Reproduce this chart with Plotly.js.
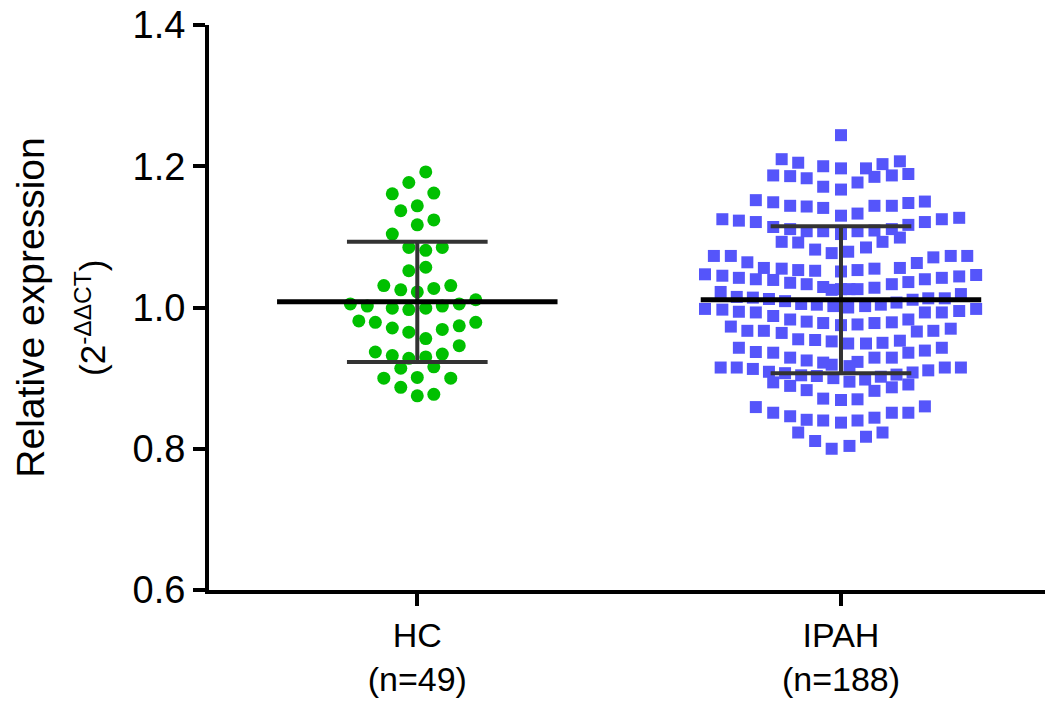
<!DOCTYPE html>
<html>
<head>
<meta charset="utf-8">
<script src="https://cdn.plot.ly/plotly-3.0.1.min.js"></script>
<style>
  html, body { margin: 0; padding: 0; background: #ffffff; }
  #chart { width: 1047px; height: 702px; }
</style>
</head>
<body>
<div id="chart"></div>
<script>
// ---------------- data ----------------
const groups = ['HC', 'IPAH'];
const groupLabels = ['HC<br>(n=49)', 'IPAH<br>(n=188)'];
const yTickVals = [0.6, 0.8, 1.0, 1.2, 1.4];
const yTickText = ['0.6', '0.8', '1.0', '1.2', '1.4'];

// group summary: mean and SD drawn as the horizontal bars
const groupMean = [1.008, 1.011];
const groupSD = [0.085, 0.104];

// HC (n=49): relative expression values and horizontal scatter offsets
const hcValues = [
  1.192, 1.177, 1.161, 1.162, 1.137, 1.144, 1.124, 1.117, 1.104, 1.085,
  1.081, 1.085, 1.052, 1.057, 1.031, 1.025, 1.022, 1.027, 1.031, 1.005,
  1.002, 0.999, 0.997, 0.999, 1.002, 1.005, 1.011, 0.981, 0.979, 0.971,
  0.965, 0.956, 0.969, 0.974, 0.979, 0.937, 0.932, 0.928, 0.930, 0.934,
  0.946, 0.914, 0.916, 0.900, 0.901, 0.900, 0.887, 0.875, 0.877
];
const hcJitter = [
  0.020, -0.020, -0.059, 0.039, -0.039, 0.000, 0.039, 0.000, -0.059, -0.020,
  0.020, 0.059, -0.020, 0.020, -0.079, -0.039, 0.000, 0.039, 0.079, -0.158,
  -0.118, -0.059, -0.020, 0.020, 0.059, 0.099, 0.138, -0.138, -0.099, -0.059,
  -0.020, 0.020, 0.059, 0.099, 0.138, -0.099, -0.059, -0.020, 0.020, 0.059,
  0.099, -0.039, 0.039, -0.079, 0.000, 0.079, -0.039, 0.000, 0.039
];

// IPAH (n=188): relative expression values and horizontal scatter offsets
const ipahValues = [
  1.244, 1.210, 1.205, 1.200, 1.197, 1.187, 1.186, 1.183, 1.171, 1.167,
  1.152, 1.149, 1.144, 1.143, 1.141, 1.130, 1.125, 1.123, 1.121, 1.114,
  1.111, 1.108, 1.108, 1.104,
  1.197, 1.203, 1.207, 1.177, 1.185, 1.187, 1.189, 1.133, 1.144, 1.144,
  1.148, 1.150, 1.117, 1.121, 1.125, 1.127,
  1.093, 1.092, 1.082, 1.077, 1.073, 1.073, 1.064, 1.056, 1.055, 1.053,
  1.052, 1.047, 1.045, 1.042, 1.040, 1.039, 1.035, 1.033, 1.029, 1.025,
  1.022, 1.015, 1.014, 1.012, 1.009, 1.005, 1.004, 1.002, 0.998, 0.997,
  0.994, 0.993, 0.988, 0.983, 0.980, 0.978, 0.973, 0.967, 0.967, 0.964,
  0.955, 0.954, 0.952, 1.051, 0.975, 1.026,
  1.108, 1.109, 1.111, 1.079, 1.085, 1.093, 1.099, 1.053, 1.055, 1.056,
  1.063, 1.071, 1.073, 1.073, 1.026, 1.026, 1.028, 1.033, 1.036, 1.040,
  1.042, 1.044, 1.046, 1.007, 1.011, 1.013, 1.013, 1.019, 1.000, 1.002,
  1.004, 0.993, 0.993, 0.995, 0.998, 0.976, 0.978, 0.979, 0.983, 0.966,
  0.967, 0.970,
  0.943, 0.937, 0.936, 0.929, 0.925, 0.922, 0.919, 0.915, 0.915, 0.913,
  0.909, 0.907, 0.904, 0.903, 0.900, 0.894, 0.889, 0.883, 0.871, 0.869,
  0.859, 0.851, 0.846, 0.841, 0.840, 0.837, 0.823, 0.811, 0.800,
  0.949, 0.949, 0.950, 0.953, 0.923, 0.929, 0.929, 0.936, 0.939, 0.943,
  0.917, 0.908, 0.911, 0.915, 0.915, 0.895, 0.898, 0.902, 0.905, 0.891,
  0.887, 0.882, 0.870, 0.860, 0.851, 0.851, 0.844, 0.840, 0.823, 0.817,
  0.804
];
const ipahJitter = [
  0.000, -0.140, -0.101, -0.042, 0.000, -0.160, -0.120, -0.081, -0.042, 0.000,
  -0.201, -0.160, -0.120, -0.081, -0.042, 0.000, -0.280, -0.241, -0.201, -0.160,
  -0.120, -0.081, -0.042, 0.000,
  0.059, 0.098, 0.139, 0.039, 0.079, 0.120, 0.159, 0.039, 0.079, 0.120,
  0.159, 0.198, 0.159, 0.198, 0.238, 0.279,
  -0.140, -0.101, -0.061, -0.022, -0.300, -0.260, -0.221, -0.182, -0.140, -0.101,
  -0.061, -0.321, -0.280, -0.241, -0.201, -0.160, -0.120, -0.081, -0.042, -0.022,
  -0.284, -0.246, -0.208, -0.170, -0.132, -0.094, -0.057, -0.018, -0.321, -0.280,
  -0.241, -0.201, -0.160, -0.120, -0.081, -0.042, -0.260, -0.221, -0.182, -0.140,
  -0.101, -0.061, -0.022, 0.000, 0.000, 0.000,
  0.039, 0.079, 0.120, 0.017, 0.059, 0.098, 0.139, 0.039, 0.079, 0.139,
  0.179, 0.218, 0.259, 0.298, 0.020, 0.039, 0.079, 0.120, 0.159, 0.198,
  0.238, 0.279, 0.319, 0.131, 0.169, 0.206, 0.245, 0.283, 0.017, 0.057,
  0.094, 0.198, 0.238, 0.279, 0.319, 0.039, 0.079, 0.120, 0.159, 0.179,
  0.218, 0.259,
  -0.241, -0.201, -0.160, -0.120, -0.081, -0.042, -0.022, -0.284, -0.246, -0.208,
  -0.170, -0.132, -0.094, -0.057, -0.018, -0.160, -0.120, -0.081, -0.042, 0.000,
  -0.201, -0.160, -0.120, -0.081, -0.042, 0.000, -0.101, -0.061, -0.022,
  0.017, 0.059, 0.098, 0.139, 0.039, 0.079, 0.120, 0.159, 0.198, 0.238,
  0.020, 0.169, 0.206, 0.245, 0.283, 0.020, 0.057, 0.094, 0.131, 0.159,
  0.120, 0.079, 0.039, 0.198, 0.159, 0.120, 0.079, 0.039, 0.098, 0.059,
  0.020
];

// ---------------- drawing ----------------
const FONT = 'Liberation Sans, Arial, Helvetica, sans-serif';
const MEAN_HALF = 0.331;   // half-width of the mean bar (x units)
const CAP_HALF = 0.166;    // half-width of the SD caps (x units)

const hcX = hcJitter.map(j => 0 + j);
const ipahX = ipahJitter.map(j => 1 + j);

const traces = [
  {
    type: 'scatter', mode: 'markers', name: groups[0],
    x: hcX, y: hcValues,
    marker: { symbol: 'circle', size: 13, color: '#00C000', line: { width: 0 } },
    hoverinfo: 'y'
  },
  {
    type: 'scatter', mode: 'markers', name: groups[1],
    x: ipahX, y: ipahValues,
    marker: { symbol: 'square', size: 12, color: '#5555FA', line: { width: 0 } },
    hoverinfo: 'y'
  }
];

// SD whiskers + caps, and mean bars
const sdX = [], sdY = [];
const meanX = [], meanY = [];
groupMean.forEach((m, i) => {
  const s = groupSD[i];
  sdX.push(i, i, null);                       sdY.push(m - s, m + s, null);
  sdX.push(i - CAP_HALF, i + CAP_HALF, null); sdY.push(m + s, m + s, null);
  sdX.push(i - CAP_HALF, i + CAP_HALF, null); sdY.push(m - s, m - s, null);
  meanX.push(i - MEAN_HALF, i + MEAN_HALF, null); meanY.push(m, m, null);
});
traces.push({
  type: 'scatter', mode: 'lines', x: sdX, y: sdY,
  line: { color: '#333333', width: 4 }, hoverinfo: 'skip', showlegend: false
});
traces.push({
  type: 'scatter', mode: 'lines', x: meanX, y: meanY,
  line: { color: '#000000', width: 5 }, hoverinfo: 'skip', showlegend: false
});

const layout = {
  width: 1047, height: 702,
  margin: { l: 209, r: 2, t: 25, b: 112, pad: 0 },
  paper_bgcolor: '#ffffff', plot_bgcolor: '#ffffff',
  showlegend: false,
  font: { family: FONT, color: '#000000', size: 36 },
  xaxis: {
    range: [-0.4916, 1.4815],
    tickmode: 'array', tickvals: [0, 1], ticktext: groupLabels,
    showline: true, linecolor: '#000000', linewidth: 4,
    ticks: 'outside', ticklen: 12, tickwidth: 4, tickcolor: '#000000',
    showgrid: false, zeroline: false, automargin: false,
    tickfont: { family: FONT, size: 34, color: '#000000' }
  },
  yaxis: {
    range: [0.6, 1.4],
    tickmode: 'array', tickvals: yTickVals, ticktext: yTickText,
    showline: true, linecolor: '#000000', linewidth: 4,
    ticks: 'outside', ticklen: 12, tickwidth: 4, tickcolor: '#000000',
    showgrid: false, zeroline: false, automargin: false,
    tickfont: { family: FONT, size: 38, color: '#000000' },
    title: { text: 'Relative expression', font: { family: FONT, size: 39, color: '#000000' }, standoff: 77 }
  },
  annotations: [
    {
      xref: 'paper', yref: 'paper', x: -0.142, y: 0.482,
      xanchor: 'center', yanchor: 'middle', textangle: -90, showarrow: false,
      text: '(2<sup>-ΔΔCT</sup>)',
      font: { family: FONT, size: 35, color: '#000000' }
    }
  ]
};

Plotly.newPlot('chart', traces, layout, { displayModeBar: false, staticPlot: true });
</script>
</body>
</html>
